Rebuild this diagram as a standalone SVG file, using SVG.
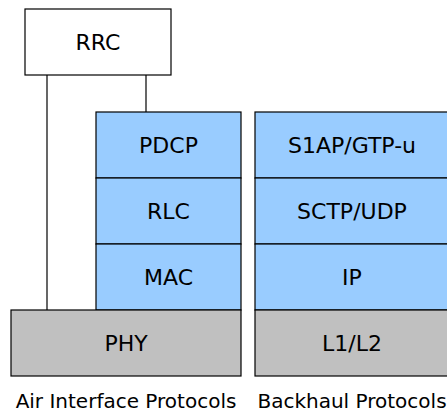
<svg xmlns="http://www.w3.org/2000/svg" width="447" height="412" viewBox="0 0 447 412">
  <style>
    .box { stroke: #000; stroke-width: 1.2; }
    .upper { fill: #99ccff; }
    .lower { fill: #c0c0c0; }
    .ctrl { fill: #ffffff; }
    .lbl { font-family: "DejaVu Sans", sans-serif; font-size: 22px; fill: #000; text-anchor: middle; dominant-baseline: central; }
    .cap { font-family: "DejaVu Sans", sans-serif; font-size: 20px; fill: #000; text-anchor: middle; }
    .wire { stroke: #000; stroke-width: 1.2; fill: none; }
  </style>
  <rect width="447" height="412" fill="#ffffff"/>

  <g id="connectors">
    <line class="wire" x1="47" y1="75" x2="47" y2="310"/>
    <line class="wire" x1="146" y1="75" x2="146" y2="112"/>
  </g>

  <g id="rrc">
    <rect class="box ctrl" x="25" y="9" width="146" height="66"/>
    <text class="lbl" x="98" y="42">RRC</text>
  </g>

  <g id="pdcp">
    <rect class="box upper" x="96" y="112" width="145" height="66"/>
    <text class="lbl" x="168.5" y="145">PDCP</text>
  </g>
  <g id="rlc">
    <rect class="box upper" x="96" y="178" width="145" height="66"/>
    <text class="lbl" x="168.5" y="211">RLC</text>
  </g>
  <g id="mac">
    <rect class="box upper" x="96" y="244" width="145" height="66"/>
    <text class="lbl" x="168.5" y="277">MAC</text>
  </g>
  <g id="phy">
    <rect class="box lower" x="11" y="310" width="230" height="66"/>
    <text class="lbl" x="126" y="343">PHY</text>
  </g>

  <g id="s1ap">
    <rect class="box upper" x="255" y="112" width="196" height="66"/>
    <text class="lbl" x="352" y="145">S1AP/GTP-u</text>
  </g>
  <g id="sctp">
    <rect class="box upper" x="255" y="178" width="196" height="66"/>
    <text class="lbl" x="352" y="211">SCTP/UDP</text>
  </g>
  <g id="ip">
    <rect class="box upper" x="255" y="244" width="196" height="66"/>
    <text class="lbl" x="352" y="277">IP</text>
  </g>
  <g id="l1l2">
    <rect class="box lower" x="255" y="310" width="196" height="66"/>
    <text class="lbl" x="352" y="343">L1/L2</text>
  </g>

  <g id="captions">
    <text class="cap" x="126" y="408">Air Interface Protocols</text>
    <text class="cap" x="352" y="408">Backhaul Protocols</text>
  </g>
</svg>
